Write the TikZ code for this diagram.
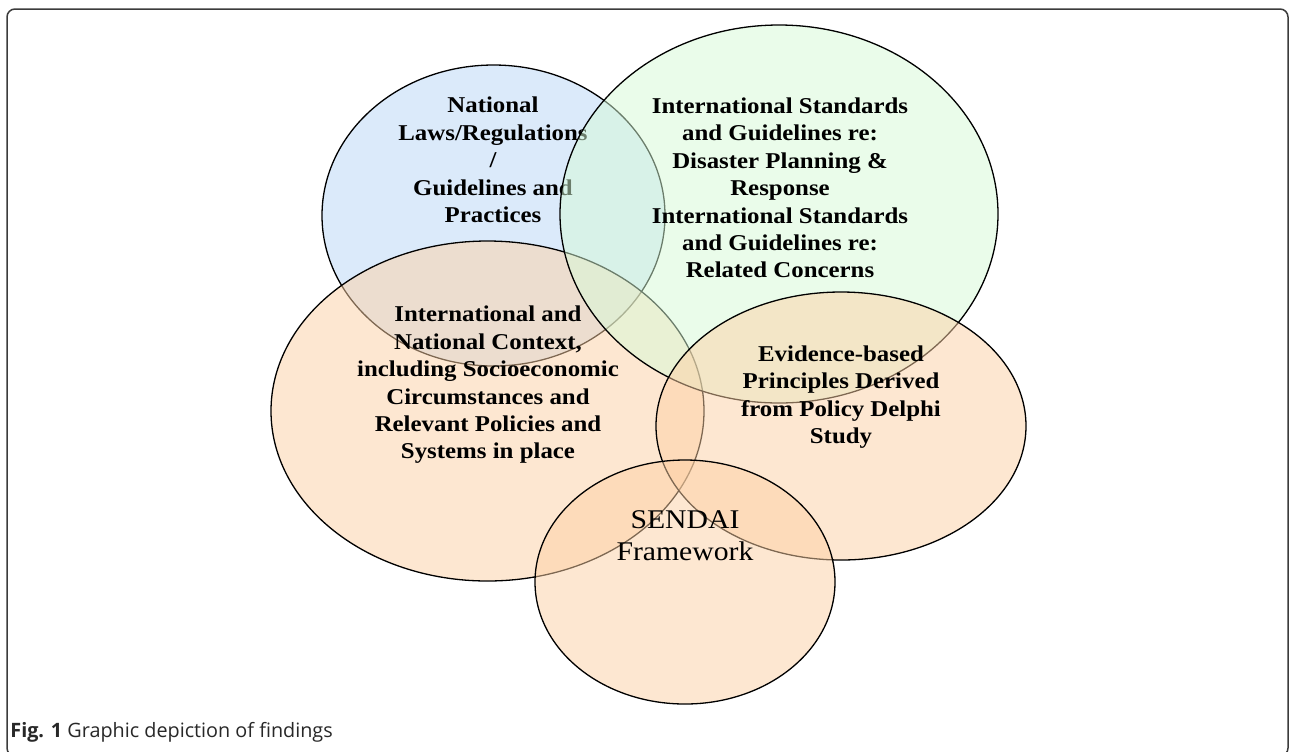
\documentclass[tikz,border=0pt]{standalone}
\usepackage{fontspec}
\setmainfont{Liberation Serif}[FakeStretch=1.1]
\newfontfamily\capfont{Open Sans}
\usetikzlibrary{shapes.geometric}

\definecolor{setblue}{RGB}{185,215,247}
\definecolor{setgreen}{RGB}{215,251,215}
\definecolor{setorange}{RGB}{253,209,165}
\definecolor{framegray}{RGB}{60,60,60}
\definecolor{captiongray}{RGB}{40,40,40}

\tikzset{
  setshape/.style={ellipse, draw=black, line width=0.65pt, fill opacity=0.5, inner sep=0pt},
  setlabel/.style={align=center, inner sep=0pt, font=\bfseries\fontsize{11.3}{13.7}\selectfont},
  framelabel/.style={align=center, inner sep=0pt, font=\fontsize{13.5}{16}\selectfont},
  captext/.style={anchor=base west, inner sep=0pt, text=captiongray, font=\capfont\fontsize{9.9}{12}\selectfont}
}

\begin{document}
\begin{tikzpicture}[x=0.5pt,y=-0.5pt]
\useasboundingbox (0,0) rectangle (1290,751);
\clip (0,0) rectangle (1290,751);
\fill[white] (0,0) rectangle (1290,751);

% outer frame of the figure panel (its lower edge runs just off the page)
\draw[framegray, line width=0.75pt, rounded corners=4pt] (7,9) rectangle (1288,756);

% national laws
\node[setshape, fill=setblue, minimum width=171.5pt, minimum height=150.5pt] (natl) at (493.5,215.5) {};
\node[setlabel] (natltext) at (493,160) {National\\Laws/Regulations\\/\\Guidelines and\\Practices};

% context
\node[setshape, fill=setorange, minimum width=216.5pt, minimum height=170pt] (ctx) at (487.5,411) {};
\node[setlabel] (ctxtext) at (488,385) {International and\\National Context,\\including Socioeconomic\\Circumstances and\\Relevant Policies and\\Systems in place};

% international standards
\node[setshape, fill=setgreen, minimum width=219pt, minimum height=189pt] (intl) at (779,214) {};
\node[setlabel] (intltext) at (780,188) {International Standards\\and Guidelines re:\\Disaster Planning \&\\Response\\International Standards\\and Guidelines re:\\Related Concerns};

% evidence-based principles
\node[setshape, fill=setorange, minimum width=185pt, minimum height=134pt] (evid) at (841,426) {};
\node[setlabel] (evidtext) at (841,397) {Evidence-based\\Principles Derived\\from Policy Delphi\\Study};

% Sendai framework
\node[setshape, fill=setorange, minimum width=150pt, minimum height=122pt] (sendai) at (685,582) {};
\node[framelabel] (sendaitext) at (685,536) {SENDAI\\Framework};

% caption
\node[captext] (caption) at (10,737) {\textbf{Fig. 1} Graphic depiction of findings};
\end{tikzpicture}
\end{document}
